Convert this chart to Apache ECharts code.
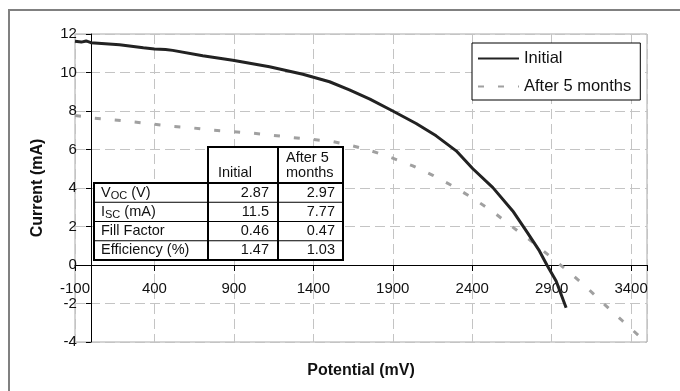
<!DOCTYPE html>
<html>
<head>
<meta charset="utf-8">
<script src="https://cdn.jsdelivr.net/npm/echarts@6/dist/echarts.min.js"></script>
<style>
html,body{margin:0;padding:0;background:#fff}
#main{width:680px;height:391px}
</style>
</head>
<body>
<div id="main"></div>
<script>
// I-V curve (potential in mV, current in mA)
var initialPotential = [-100, -60, -30, 0, 180, 330, 400, 470, 515, 704, 893, 1124, 1334, 1502, 1627, 1756, 1900, 2047, 2173, 2299, 2404, 2530, 2655, 2740, 2823, 2870, 2928, 2991];
var initialCurrent   = [11.62, 11.58, 11.64, 11.55, 11.44, 11.28, 11.22, 11.2, 11.15, 10.87, 10.64, 10.3, 9.91, 9.52, 9.1, 8.62, 8.0, 7.35, 6.71, 5.93, 5.0, 4.02, 2.81, 1.77, 0.73, 0.0, -0.83, -2.22];

var agedPotential = [-100, 23, 138, 264, 390, 515, 641, 767, 893, 1019, 1145, 1271, 1396, 1522, 1648, 1764, 1890, 2026, 2152, 2278, 2404, 2530, 2645, 2771, 2886, 3001, 3117, 3232, 3347, 3463, 3495];
var agedCurrent   = [7.77, 7.63, 7.54, 7.44, 7.32, 7.2, 7.12, 7.0, 6.93, 6.85, 6.74, 6.62, 6.52, 6.41, 6.19, 5.93, 5.58, 5.15, 4.66, 4.1, 3.47, 2.77, 2.03, 1.25, 0.47, -0.31, -1.14, -2.04, -2.91, -3.78, -4.0];

var seriesNames = ['Initial', 'After 5 months'];

// table of cell parameters
var tableHeads   = ['Initial', 'After 5', 'months'];
var tableLabels  = ['{n|V}{s|OC}{n| (V)}', '{n|I}{s|SC}{n| (mA)}', '{n|Fill Factor}', '{n|Efficiency (%)}'];
var tableInitial = ['2.87', '11.5', '0.46', '1.47'];
var tableAged    = ['2.97', '7.77', '0.47', '1.03'];

var FONT = 'Liberation Sans, Arial, sans-serif';

var xMin = -100, xMax = 3500, xStep = 500;
var yMin = -4, yMax = 12, yStep = 2;

function pairs(xs, ys){
    var out = [];
    for (var i = 0; i < xs.length; i++) out.push([xs[i], ys[i]]);
    return out;
}

// plot area
var gLeft = 75, gRight = 33, gTop = 34, gBottom = 49;
var plotW = 680 - gLeft - gRight, plotH = 391 - gTop - gBottom;
// axes cross at zero: shift them in from the plot edges
var xAxisShift = -(0 - yMin) / (yMax - yMin) * plotH;
var yAxisShift = -(0 - xMin) / (xMax - xMin) * plotW;

// table layout
var tLeft = 94, colA = 208, colB = 278, tRight = 343;
var headTop = 147, bodyTop = 183, rowH = 19.25;
var bodyBottom = bodyTop + rowH * tableLabels.length;
var tFont = 14.5;

var graphics = [];
// outer frame of the figure
graphics.push({type:'rect', z:1, shape:{x:9, y:10, width:720, height:420}, style:{fill:'none', stroke:'#808080', lineWidth:2}});
graphics.push({type:'rect', z:10, shape:{x:colA, y:headTop, width:tRight-colA, height:bodyTop-headTop}, style:{fill:'#fff', stroke:'#000', lineWidth:2}});
graphics.push({type:'rect', z:10, shape:{x:tLeft, y:bodyTop, width:tRight-tLeft, height:bodyBottom-bodyTop}, style:{fill:'#fff', stroke:'#000', lineWidth:2}});
for (var r = 1; r < tableLabels.length; r++) {
    graphics.push({type:'line', z:11, shape:{x1:tLeft, y1:bodyTop + r*rowH, x2:tRight, y2:bodyTop + r*rowH}, style:{stroke:'#000', lineWidth:1}});
}
[colA, colB].forEach(function(cx){
    graphics.push({type:'line', z:12, shape:{x1:cx, y1:headTop, x2:cx, y2:bodyBottom}, style:{stroke:'#000', lineWidth:2}});
});
graphics.push({type:'text', z:13, style:{text:tableHeads[0], x:colA+10, y:bodyTop-10, fill:'#111', fontSize:tFont, fontFamily:FONT, verticalAlign:'middle'}});
graphics.push({type:'text', z:13, style:{text:tableHeads[1], x:colB+8, y:bodyTop-25, fill:'#111', fontSize:tFont, fontFamily:FONT, verticalAlign:'middle'}});
graphics.push({type:'text', z:13, style:{text:tableHeads[2], x:colB+8, y:bodyTop-10, fill:'#111', fontSize:tFont, fontFamily:FONT, verticalAlign:'middle'}});
for (var i = 0; i < tableLabels.length; i++) {
    var cy = bodyTop + (i + 0.5) * rowH;
    graphics.push({type:'text', z:13, style:{text:tableLabels[i], x:tLeft+7, y:cy, verticalAlign:'middle',
        rich:{n:{fontSize:tFont, fontFamily:FONT, fill:'#111', lineHeight:18},
              s:{fontSize:11, fontFamily:FONT, fill:'#111', lineHeight:11, verticalAlign:'bottom'}}}});
    graphics.push({type:'text', z:13, style:{text:tableInitial[i], x:colB-9, y:cy, align:'right', verticalAlign:'middle', fill:'#111', fontSize:tFont, fontFamily:FONT}});
    graphics.push({type:'text', z:13, style:{text:tableAged[i], x:tRight-8, y:cy, align:'right', verticalAlign:'middle', fill:'#111', fontSize:tFont, fontFamily:FONT}});
}

var chart = echarts.init(document.getElementById('main'), null, {renderer:'canvas'});
var option = {
    animation: false,
    backgroundColor: '#fff',
    textStyle: {fontFamily: FONT},
    grid: {left:gLeft, right:gRight, top:gTop, bottom:gBottom, containLabel:false, outerBoundsMode:'none',
           show:true, borderColor:'#a8a8a8', borderWidth:1, backgroundColor:'#fff'},
    legend: {
        data: seriesNames,
        orient: 'vertical',
        left: 472, top: 43,
        itemWidth: 41, itemHeight: 14, itemGap: 11,
        padding: [7, 9, 5, 5],
        backgroundColor: '#fff',
        borderColor: '#000', borderWidth: 1,
        itemStyle: {opacity: 0, borderWidth: 0},
        textStyle: {fontSize:16.5, color:'#111', fontFamily:FONT},
        z: 20
    },
    xAxis: {
        type: 'value',
        min: xMin, max: xMax, interval: xStep,
        name: 'Potential (mV)',
        nameLocation: 'middle',
        nameGap: 98,
        nameTextStyle: {fontSize:16, fontWeight:'bold', color:'#111', fontFamily:FONT},
        offset: xAxisShift,
        axisLine: {onZero:false, lineStyle:{color:'#000', width:1}},
        axisTick: {show:true, length:6, lineStyle:{color:'#000'}},
        axisLabel: {fontSize:15, color:'#111', margin:16, fontFamily:FONT,
            formatter: function(v){ return v === xMax ? '' : String(v); }},
        splitLine: {show:true, lineStyle:{color:'#c4c4c4', type:[10,5], width:1}}
    },
    yAxis: {
        type: 'value',
        min: yMin, max: yMax, interval: yStep,
        name: 'Current (mA)',
        nameLocation: 'middle',
        nameGap: 45,
        nameTextStyle: {fontSize:16, fontWeight:'bold', color:'#111', fontFamily:FONT},
        offset: yAxisShift,
        axisLine: {onZero:false, lineStyle:{color:'#000', width:1}},
        axisTick: {show:true, length:5, lineStyle:{color:'#000'}},
        axisLabel: {fontSize:15, color:'#111', margin:14, fontFamily:FONT},
        splitLine: {show:true, lineStyle:{color:'#c4c4c4', type:[10,5], width:1}}
    },
    series: [
        {
            name: seriesNames[0],
            type: 'line',
            data: pairs(initialPotential, initialCurrent),
            showSymbol: false, symbol: 'none',
            color: '#222',
            lineStyle: {color:'#222', width:3},
            z: 3
        },
        {
            name: seriesNames[1],
            type: 'line',
            data: pairs(agedPotential, agedCurrent),
            showSymbol: false, symbol: 'none',
            color: '#a0a0a0',
            lineStyle: {color:'#a0a0a0', width:3, type:[6,14]},
            z: 2
        }
    ],
    graphic: graphics
};
chart.setOption(option);
</script>
</body>
</html>
